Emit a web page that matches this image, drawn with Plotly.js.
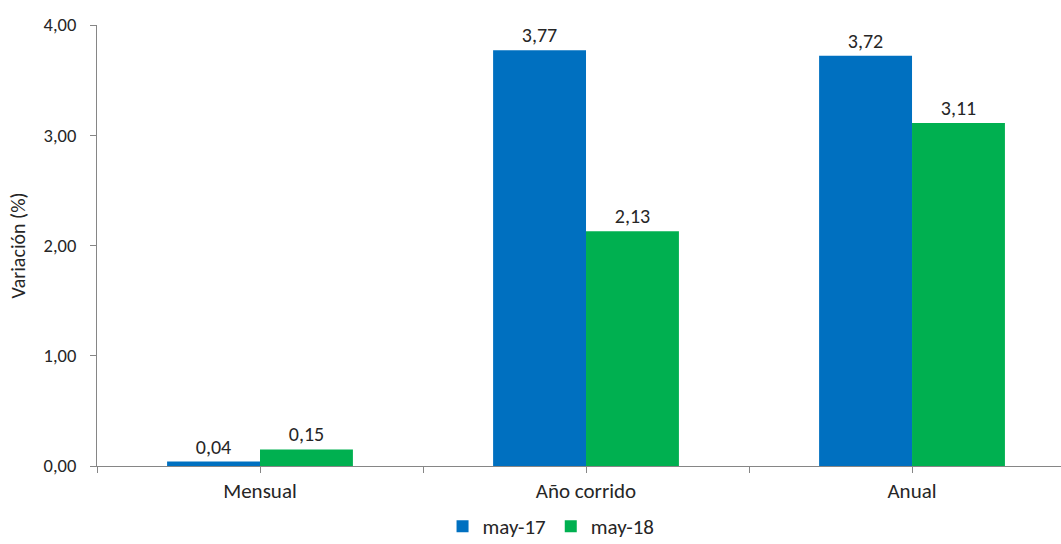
<!DOCTYPE html>
<html>
<head>
<meta charset="utf-8">
<script src="https://cdn.plot.ly/plotly-3.0.1.min.js"></script>
<style>html,body{margin:0;padding:0;background:#fff;}#chart{width:1061px;height:544px;}</style>
</head>
<body>
<div id="chart"></div>
<script>
const categories = ["Mensual", "Año corrido", "Anual"];
const seriesNames = ["may-17", "may-18"];
const may17 = [0.04, 3.77, 3.72];
const may18 = [0.15, 2.13, 3.11];
const yTicks = [0, 1, 2, 3, 4];

const FONT = "Calibri, Carlito, Lato, sans-serif";
const xIdx = categories.map((c, i) => i);

const tickvals = [];
const ticktext = [];
categories.forEach((c, i) => {
  tickvals.push(i - 0.5); ticktext.push("");
  tickvals.push(i); ticktext.push(c);
});
tickvals.push(categories.length - 0.5); ticktext.push("");

function bar(name, vals, color) {
  return {
    type: "bar", name: name, x: xIdx, y: vals,
    marker: {color: color},
    texttemplate: "%{y:.2f}", textposition: "outside",
    textfont: {family: FONT, size: 20, color: "#262626"},
    cliponaxis: false, hoverinfo: "none"
  };
}

const data = [
  bar(seriesNames[0], may17, "#0070C0"),
  bar(seriesNames[1], may18, "#00B050")
];

const layout = {
  width: 1061, height: 544,
  margin: {l: 97, r: 0, t: 25, b: 78},
  paper_bgcolor: "#fff", plot_bgcolor: "#fff",
  separators: ", ",
  font: {family: FONT, color: "#262626"},
  barmode: "group", bargap: 0.43, bargroupgap: 0,
  showlegend: true,
  legend: {
    orientation: "h", x: 0.471, xanchor: "center",
    yref: "container", y: 0.032, yanchor: "middle",
    font: {family: FONT, size: 21, color: "#262626"},
    traceorder: "normal"
  },
  xaxis: {
    type: "linear", range: [-0.5, 2.457],
    tickmode: "array", tickvals: tickvals, ticktext: ticktext,
    showgrid: false, zeroline: false,
    showline: true, linecolor: "#868686", linewidth: 1,
    ticks: "outside", ticklen: 6, tickcolor: "#868686",
    tickfont: {family: FONT, size: 21, color: "#262626"},
    automargin: false,
    fixedrange: true
  },
  yaxis: {
    range: [0, 4], tickmode: "array", tickvals: yTicks, tickformat: ".2f",
    showgrid: false, zeroline: false,
    showline: true, linecolor: "#868686", linewidth: 1,
    ticks: "outside", ticklen: 6, tickcolor: "#868686",
    ticklabelstandoff: 10,
    tickfont: {family: FONT, size: 18.5, color: "#262626"},
    title: {text: "Variación (%)", font: {family: FONT, size: 20, color: "#262626"}, standoff: 12},
    automargin: false,
    fixedrange: true
  }
};

Plotly.newPlot("chart", data, layout, {displayModeBar: false, staticPlot: true});
</script>
</body>
</html>
